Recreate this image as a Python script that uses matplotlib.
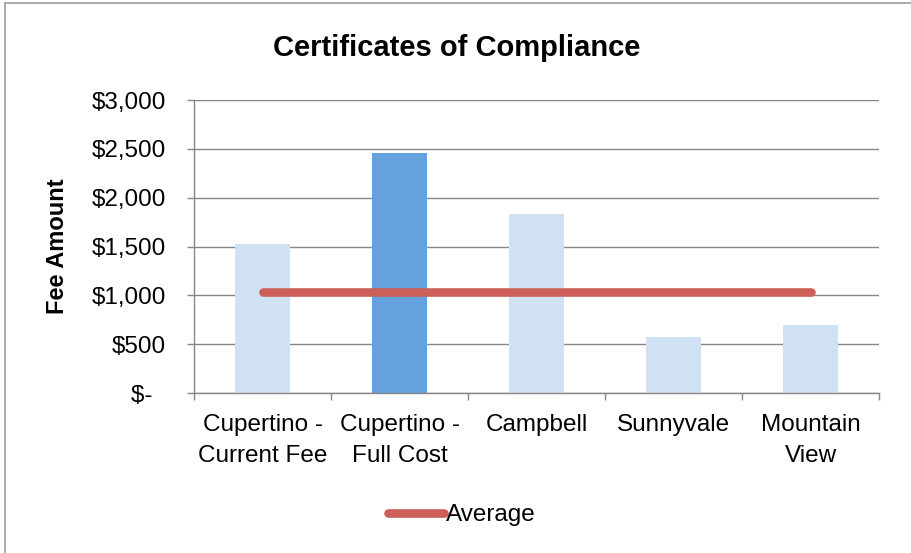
import matplotlib
matplotlib.use("Agg")
import matplotlib.pyplot as plt
from matplotlib.lines import Line2D

plt.rcParams['font.family'] = ['Liberation Sans', 'DejaVu Sans']

# data
cities = ["Cupertino -\nCurrent Fee", "Cupertino -\nFull Cost", "Campbell", "Sunnyvale", "Mountain\nView"]
fees = [1530, 2455, 1830, 570, 695]
average = 1032
yticks = [0, 500, 1000, 1500, 2000, 2500, 3000]
ytick_labels = ["$-  ", "$500", "$1,000", "$1,500", "$2,000", "$2,500", "$3,000"]

light = "#D0E1F3"
dark = "#65A1DD"
red = "#CC6058"
grid = "#878787"

fig = plt.figure(figsize=(9.11, 5.53), dpi=100)
ax = fig.add_axes([0.213, 0.289, 0.752, 0.530])

colors = [light, dark, light, light, light]
x = list(range(len(cities)))
ax.bar(x, fees, width=0.4, color=colors, zorder=2)
ax.plot([x[0], x[-1]], [average, average], color=red, lw=6.2,
        solid_capstyle="round", zorder=3)

ax.set_xlim(-0.5, len(cities) - 0.5)
ax.set_ylim(0, 3000)
ax.set_yticks(yticks)
ax.set_yticklabels(ytick_labels)
ax.set_xticks(x)
ax.set_xticklabels(cities, linespacing=1.55)
ax.set_xticks([i - 0.5 for i in range(len(cities) + 1)], minor=True)

ax.tick_params(axis="x", which="major", length=0, pad=15, labelsize=17.5)
ax.tick_params(axis="x", which="minor", length=5, width=1, color=grid, direction="out")
ax.tick_params(axis="y", length=5, width=1, color=grid, pad=15, labelsize=17.5)

ax.yaxis.grid(True, color=grid, lw=1, zorder=0)
ax.set_axisbelow(True)
for s in ["top", "right"]:
    ax.spines[s].set_visible(False)
for s in ["left", "bottom"]:
    ax.spines[s].set_color(grid)
    ax.spines[s].set_linewidth(1)

fig.text(457 / 911, 1 - 48 / 553, "Certificates of Compliance", ha="center", va="center",
         fontsize=21, fontweight="bold")
fig.text(58 / 911, 1 - 246 / 553, "Fee Amount", ha="center", va="center",
         rotation=90, fontsize=17, fontweight="bold")

handle = Line2D([0], [0], color=red, lw=6.2, solid_capstyle="round")
fig.legend([handle], ["Average"], loc="center", bbox_to_anchor=(462 / 911, 1 - 515 / 553),
           frameon=False, fontsize=17.5, handlelength=2.3, handletextpad=0.1)

# chart frame (left and top edge only visible)
fig.add_artist(Line2D([5 / 911, 5 / 911], [0, 1 - 3 / 553], color="#A0A0A0", lw=1.2))
fig.add_artist(Line2D([5 / 911, 1], [1 - 3 / 553, 1 - 3 / 553], color="#A0A0A0", lw=1.2))

fig.savefig("out.png", dpi=100, facecolor="white")
